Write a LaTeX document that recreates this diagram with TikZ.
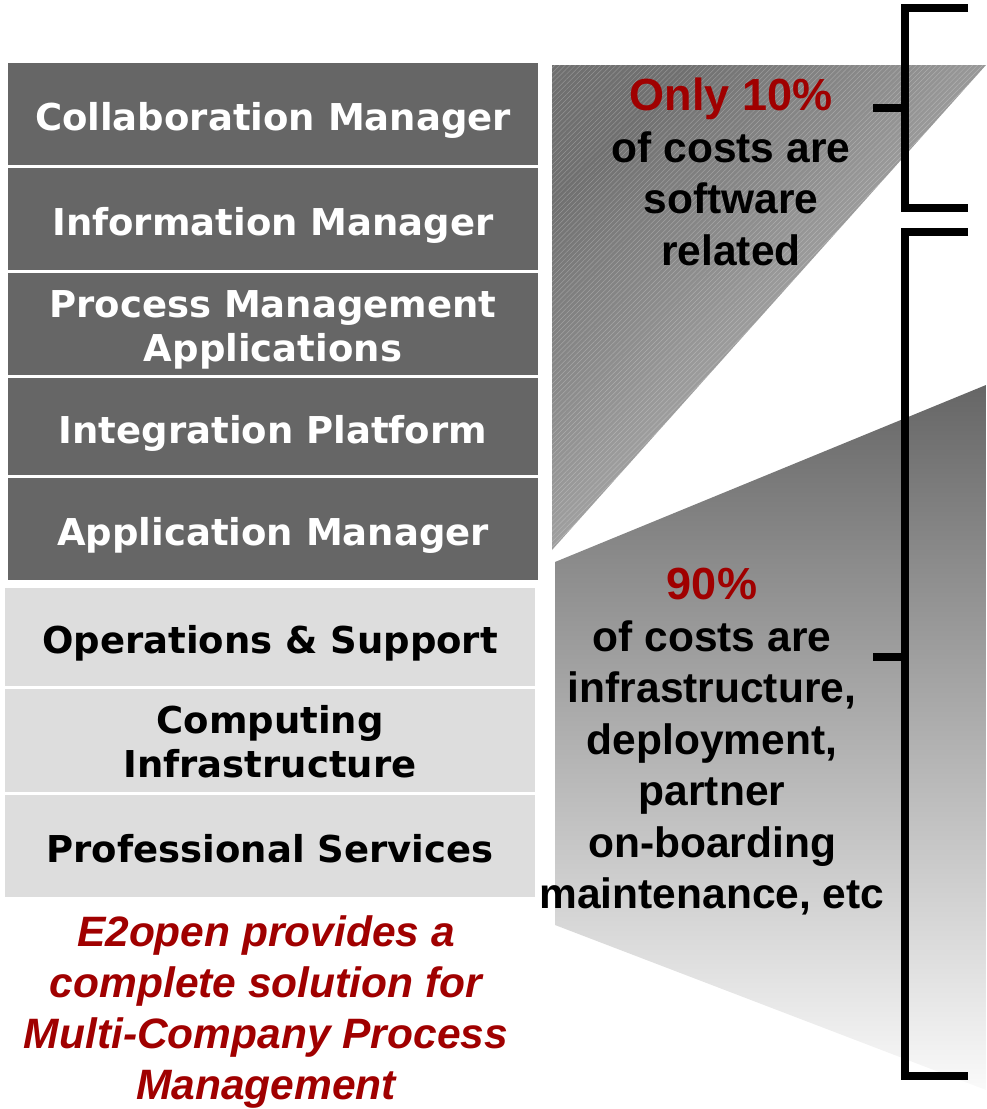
\documentclass[tikz,border=0pt]{standalone}
\usepackage{fontspec}
\setmainfont{Liberation Sans}
\newfontfamily\stackfont{DejaVu Sans}
\usetikzlibrary{patterns.meta}

\definecolor{stackdark}{RGB}{102,102,102}
\definecolor{stacklight}{RGB}{221,221,221}
\definecolor{costred}{RGB}{160,0,0}
\definecolor{hatchtop}{RGB}{112,112,112}
\definecolor{hatchbot}{RGB}{200,200,200}
\definecolor{fadetop}{RGB}{102,102,102}
\definecolor{fadebot}{RGB}{250,250,250}

\newcommand{\redline}[1]{\textcolor{costred}{\fontsize{45}{51}\selectfont #1}}

\tikzset{
  layer/.style={minimum width=530pt, inner sep=0pt, align=center,
    font=\stackfont\bfseries\fontsize{37}{44}\selectfont},
  oneline/.style={text height=33pt, text depth=0pt},
  twoline/.style={text height=74pt, text depth=0pt},
  softlayer/.style={layer, fill=stackdark, text=white},
  infralayer/.style={layer, fill=stacklight, text=black},
  costtext/.style={align=center, inner sep=0pt,
    font=\bfseries\fontsize{42.5}{51.5}\selectfont},
  bracket/.style={line width=8pt, line join=miter}
}

\begin{document}
\begin{tikzpicture}[x=1pt,y=-1pt]
  \useasboundingbox (0,0) rectangle (986,1109);
%%
  % Shape: software wedge (hatched)
  \shade[top color=hatchtop, bottom color=hatchbot, shading angle=45]
    (552,65) -- (986,65) -- (552,550) -- cycle;
  \fill[pattern={Lines[angle=45,distance=3.6pt,line width=0.5pt]},
        pattern color=white, opacity=0.25]
    (552,65) -- (986,65) -- (552,550) -- cycle;
  % Shape: infrastructure wedge
  \shade[top color=fadetop, bottom color=fadebot]
    (555,562) -- (986,385) -- (986,1090) -- (555,925) -- cycle;
%%
  % Node: software layers
  \node[softlayer, oneline, minimum height=102pt] (collab) at (273,114) {Collaboration Manager};
  \node[softlayer, oneline, minimum height=102pt] (info) at (273,219) {Information Manager};
  \node[softlayer, twoline, minimum height=102pt] (procapp) at (273,324) {Process Management\\Applications};
  \node[softlayer, oneline, minimum height=97pt] (integ) at (273,426.5) {Integration Platform};
  \node[softlayer, oneline, minimum height=102pt] (appman) at (273,529) {Application Manager};
  % Node: infrastructure layers
  \node[infralayer, oneline, minimum height=98pt] (opsup) at (270,637) {Operations \& Support};
  \node[infralayer, twoline, minimum height=103pt] (compinf) at (270,740.5) {Computing\\Infrastructure};
  \node[infralayer, oneline, minimum height=102pt] (profserv) at (270,846) {Professional Services};
%%
  % Node: cost notes
  \node[costtext] (swnote) at (731,172)
    {\redline{Only 10\%}\\of costs are\\software\\related};
  \node[costtext] (infranote) at (712,742)
    {\redline{90\%}\\of costs are\\infrastructure,\\deployment,\\partner\\on-boarding\\maintenance, etc};
  \node[costtext, text=costred, font=\bfseries\itshape\fontsize{42.5}{51}\selectfont] (claim) at (266,1012)
    {E2open provides a\\complete solution for\\Multi-Company Process\\Management};
%%
  % Edge: software bracket
  \coordinate (swtop) at (968,8);
  \coordinate (swbot) at (968,208);
  \coordinate (swtick) at (873,108);
  \draw[bracket] (swtop) -- ++(-63,0) |- (swbot);
  \draw[bracket] (swtick) -- ++(32,0);
  % Edge: infrastructure bracket
  \coordinate (inftop) at (968,232);
  \coordinate (infbot) at (968,1076);
  \coordinate (inftick) at (873,657);
  \draw[bracket] (inftop) -- ++(-63,0) |- (infbot);
  \draw[bracket] (inftick) -- ++(32,0);
%
\end{tikzpicture}
\end{document}
